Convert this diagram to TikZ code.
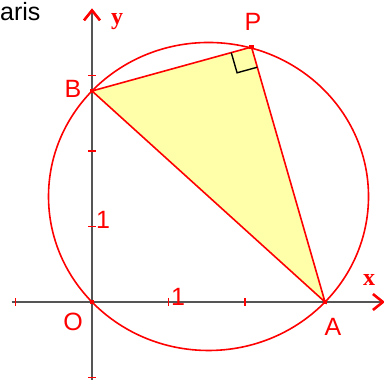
\documentclass[tikz,border=0pt]{standalone}
\usepackage{fontspec}
\setmainfont{Liberation Sans}
\newfontfamily\axisfont{Liberation Serif}
\usetikzlibrary{arrows.meta,calc}
\definecolor{ptRed}{HTML}{FF0000}
\definecolor{triYellow}{HTML}{FFFFAA}
\definecolor{axGray}{HTML}{555555}

\begin{document}
\begin{tikzpicture}[x=76.5pt,y=75.5pt,
  axis/.style={axGray,line width=1.6pt,-{Straight Barb[color=ptRed,length=10pt,width=16pt,line width=2.6pt]}},
  tick/.style={ptRed,line width=1.4pt},
  edge/.style={ptRed,line width=1.6pt},
  pt/.style={rectangle,fill=ptRed,minimum size=4.5pt,inner sep=0pt},
  lbl/.style={text=ptRed,inner sep=0pt,font=\fontsize{25}{27}\selectfont},
  axlbl/.style={text=ptRed,inner sep=0pt,font=\axisfont\bfseries\fontsize{24}{26}\selectfont}]
  \useasboundingbox (-1.2026,-1.0331) rectangle (3.817,4.0);
  \coordinate (O) at (0,0);
  \coordinate (A) at (3.046,0);
  \coordinate (B) at (0,2.795);
  \coordinate (P) at (2.085,3.377);
  \coordinate (C) at ($(A)!0.5!(B)$);
  % triangle
  \filldraw[edge,fill=triYellow] (A) -- (B) -- (P) -- cycle;
  % axes
  \draw[axis] (-1.05,0) coordinate (xl) -- (3.83,0) coordinate (xr);
  \draw[axis] (0,-1.04) coordinate (yb) -- (0,3.89) coordinate (yt);
  \foreach \i in {-1,1,2}
    \draw[tick] (\i,-0.05) -- (\i,0.05);
  \foreach \j in {-1,1,2,3}
    \draw[tick] (-0.05,\j) -- (0.05,\j);
  % circle on AB
  \draw[edge] (C) ellipse [x radius=160pt,y radius=154pt];
  % right angle at P
  \coordinate (pb) at ($(P)!21pt!(B)$);
  \coordinate (pa) at ($(P)!21pt!(A)$);
  \draw[black,line width=1.4pt] (pb) -- ($(pb)+(pa)-(P)$) -- (pa);
  % points
  \foreach \p in {O,A,B,P}
    \node[pt] at (\p) {};
  \node[lbl] (lO) at (-0.248,-0.265) {O};
  \node[lbl] (lA) at (3.150,-0.331) {A};
  \node[lbl] (lB) at (-0.248,2.821) {B};
  \node[lbl] (lP) at (2.105,3.709) {P};
  \node[lbl] (one x) at (1.124,0.066) {1};
  \node[lbl] (one y) at (0.144,1.086) {1};
  \node[axlbl] (lx) at (3.621,0.291) {x};
  \node[axlbl] (ly) at (0.327,3.709) {y};
  \node[inner sep=0pt,anchor=west,font=\fontsize{25}{27}\selectfont] (title) at (-1.2026,3.841) {aris};
\end{tikzpicture}
\end{document}
